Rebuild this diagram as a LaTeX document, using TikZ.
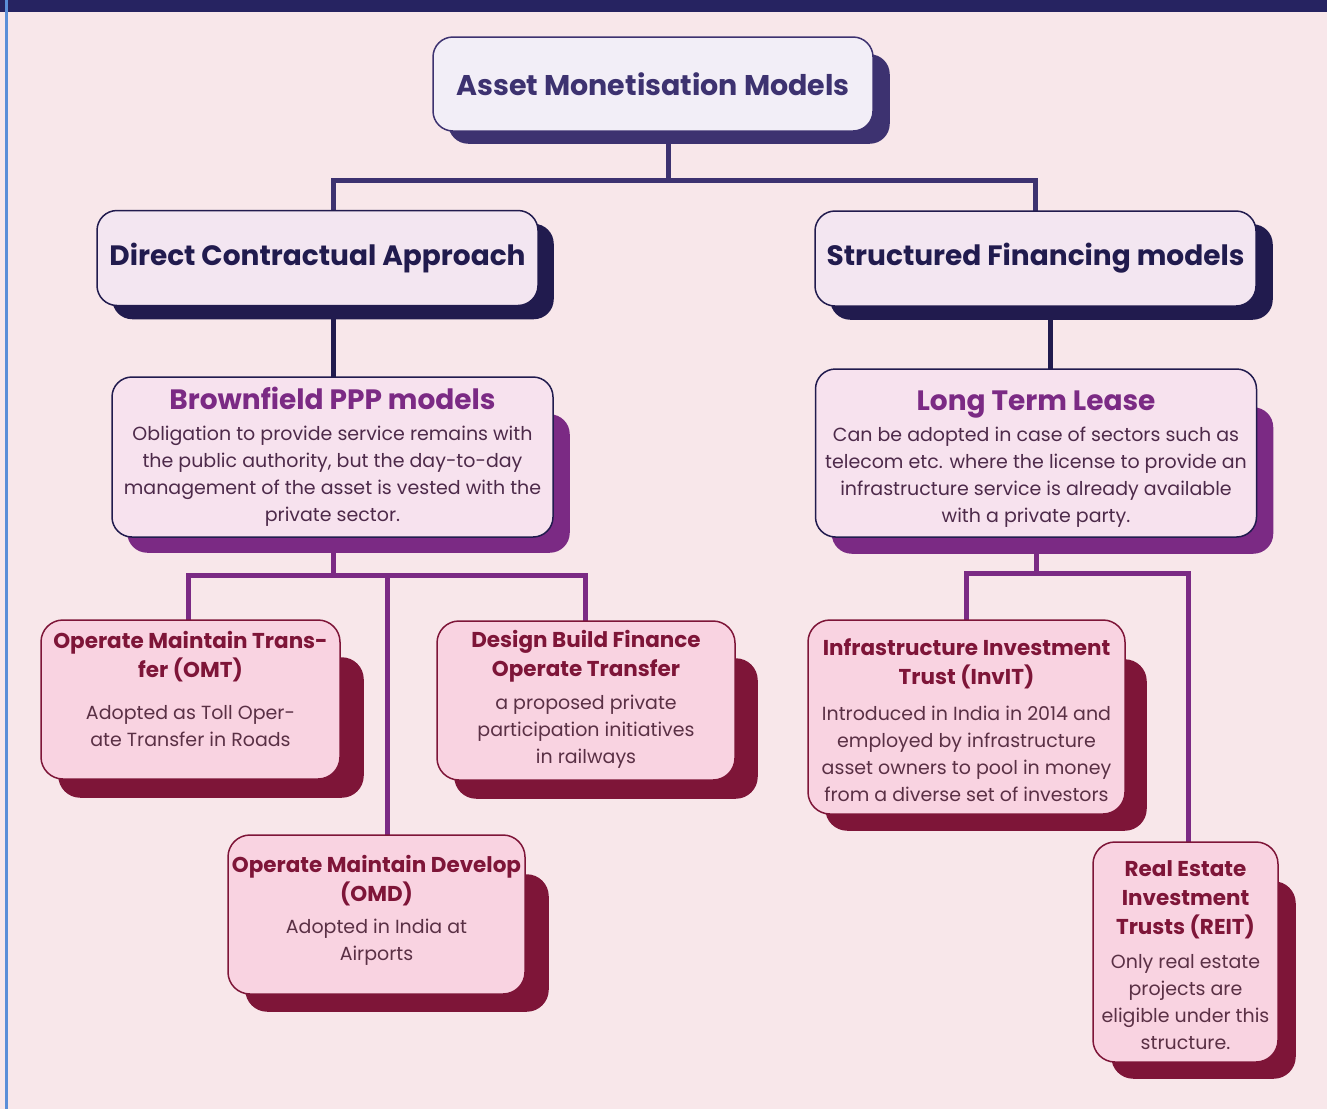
\documentclass[tikz,border=0pt]{standalone}
\usepackage{fontspec}
\setmainfont{Poppins}
\usetikzlibrary{calc,backgrounds}

\definecolor{pagepink}{HTML}{F8E7EA}
\definecolor{topbar}{HTML}{262361}
\definecolor{edgeblue}{HTML}{5B8ED8}
\definecolor{headnavy}{HTML}{3D3270}
\definecolor{headfill}{HTML}{F2EEF7}
\definecolor{darknavy}{HTML}{211B4E}
\definecolor{lilacfill}{HTML}{F3E6F1}
\definecolor{plum}{HTML}{7B2A84}
\definecolor{plumfill}{HTML}{F7E2EE}
\definecolor{plumtext}{HTML}{4D2A4A}
\definecolor{wine}{HTML}{7E1538}
\definecolor{winefill}{HTML}{F9D3E1}
\definecolor{winetext}{HTML}{5A3045}

\newcommand{\modeltitle}[1]{{\fontsize{28}{30}\selectfont\bfseries\color{plum}#1}}
\newcommand{\leaftitle}[1]{{\fontsize{21.5}{29}\selectfont\bfseries\color{wine}#1}}
\newcommand{\lowerpad}[1]{\rule[-#1]{0pt}{0pt}}
\newcommand{\upperpad}[1]{\rule{0pt}{#1}}

\tikzset{every picture/.style={line width=0.75pt}}
\tikzset{
  headbox/.style={draw=headnavy, fill=headfill, rounded corners=20pt, line width=1.5pt,
    minimum width=440pt, minimum height=94pt, align=center, text=headnavy,
    font=\fontsize{28.5}{32}\selectfont\bfseries},
  groupbox/.style={draw=darknavy, fill=lilacfill, rounded corners=20pt, line width=1.5pt,
    minimum width=441pt, minimum height=95pt, align=center, text=darknavy,
    font=\fontsize{28}{32}\selectfont\bfseries},
  modelbox/.style={draw=darknavy, fill=plumfill, rounded corners=20pt, line width=1.5pt,
    minimum width=441pt, align=center, text=plumtext, inner sep=0pt,
    font=\fontsize{19}{27}\selectfont},
  leafbox/.style={draw=wine, fill=winefill, rounded corners=22pt, line width=1.5pt,
    align=center, text=winetext, inner sep=0pt, font=\fontsize{19}{27}\selectfont},
  headshade/.style={fill=headnavy, rounded corners=20pt},
  groupshade/.style={fill=darknavy, rounded corners=20pt},
  modelshade/.style={fill=plum, rounded corners=20pt},
  leafshade/.style={fill=wine, rounded corners=22pt},
  navylink/.style={draw=headnavy, line width=5pt, line cap=rect},
  darklink/.style={draw=darknavy, line width=5pt},
  plumlink/.style={draw=plum, line width=5pt, line cap=rect}
}

\begin{document}
\begin{tikzpicture}[x=1pt,y=1pt,yscale=-1,xscale=1]
\useasboundingbox (0,0) rectangle (1327,1109);

% Text Node
\node[headbox] (title) at (653,84) {Asset Monetisation Models};
% Text Node
\node[groupbox] (dca) at (317.5,258) {Direct Contractual Approach};
% Text Node
\node[groupbox] (sfm) at (1035.5,258.5) {Structured Financing models};
% Text Node
\node[modelbox, minimum height=160pt] (ppp) at (332.5,457) {\modeltitle{Brownfield PPP models}\\[4pt]
Obligation to provide service remains with\\
the public authority, but the day-to-day\\
management of the asset is vested with the\\
private sector.};
% Text Node
\node[modelbox, minimum height=168pt] (ltl) at (1036,453) {\upperpad{32pt}\modeltitle{Long Term Lease}\\[4pt]
Can be adopted in case of sectors such as\\
telecom etc. where the license to provide an\\
infrastructure service is already available\\
with a private party.};
% Text Node
\node[leafbox, minimum width=299pt, minimum height=159pt] (omt) at (190.5,699.5) {\leaftitle{Operate Maintain Trans-}\\[2pt]
\leaftitle{fer (OMT)}\\[15pt]
Adopted as Toll Oper-\\
ate Transfer in Roads\lowerpad{22pt}};
% Text Node
\node[leafbox, minimum width=298pt, minimum height=159pt] (dbfot) at (586,700.5) {\leaftitle{Design Build Finance}\\[2pt]
\leaftitle{Operate Transfer}\\[6pt]
a proposed private\\
participation initiatives\\
in railways\lowerpad{7pt}};
% Text Node
\node[leafbox, minimum width=297pt, minimum height=159pt] (omd) at (376.5,914.5) {\leaftitle{Operate Maintain Develop}\\[2pt]
\leaftitle{(OMD)}\\[5pt]
Adopted in India at\\
Airports\lowerpad{14pt}};
% Text Node
\node[leafbox, minimum width=317pt, minimum height=194pt] (invit) at (966.5,717) {\upperpad{23pt}\leaftitle{Infrastructure Investment}\\[2pt]
\leaftitle{Trust (InvIT)}\\[9pt]
Introduced in India in 2014 and\\
employed by infrastructure\\
asset owners to pool in money\\
from a diverse set of investors};
% Text Node
\node[leafbox, minimum width=185pt, minimum height=220pt] (reit) at (1185.5,952) {\upperpad{23pt}\leaftitle{Real Estate}\\[2pt]
\leaftitle{Investment}\\[2pt]
\leaftitle{Trusts (REIT)}\\[7pt]
Only real estate\\
projects are\\
eligible under this\\
structure.};

\coordinate (rootjoint) at (668,180);
\coordinate (dcajoint) at (333,180);
\coordinate (sfmjoint) at (1035,180);
\coordinate (dcadrop) at (333,318);
\coordinate (sfmdrop) at (1050,319);
\coordinate (pppjoint) at (333,575);
\coordinate (omtjoint) at (188,575);
\coordinate (omdjoint) at (387,575);
\coordinate (dbfotjoint) at (585,575);
\coordinate (ltljoint) at (1036,573);
\coordinate (invitjoint) at (966,573);
\coordinate (reitjoint) at (1188,573);

\begin{pgfonlayer}{background}
%Shape: Page
\fill[pagepink] (0,0) rectangle (1327,1109);
%Straight Lines
\draw[navylink] (title.center -| rootjoint) -- (rootjoint);
\draw[navylink] (dcajoint) -- (sfmjoint);
\draw[navylink] (dcajoint) -- (dcajoint |- dca.center);
\draw[navylink] (sfmjoint) -- (sfmjoint |- sfm.center);
\draw[darklink] (dcadrop) -- (dcadrop |- ppp.center);
\draw[darklink] (sfmdrop) -- (sfmdrop |- ltl.center);
%Straight Lines
\draw[plumlink] (pppjoint |- ppp.center) -- (pppjoint);
\draw[plumlink] (omtjoint) -- (dbfotjoint);
\draw[plumlink] (omtjoint) -- (omtjoint |- omt.center);
\draw[plumlink] (omdjoint) -- (omdjoint |- omd.center);
\draw[plumlink] (dbfotjoint) -- (dbfotjoint |- dbfot.center);
%Straight Lines
\draw[plumlink] (ltljoint |- ltl.center) -- (ltljoint);
\draw[plumlink] (invitjoint) -- (reitjoint);
\draw[plumlink] (invitjoint) -- (invitjoint |- invit.center);
\draw[plumlink] (reitjoint) -- (reitjoint |- reit.center);
%Shape: Shadows
\fill[headshade] ($(title.north west)+(16,18)$) rectangle ($(title.south east)+(16,12)$);
\fill[groupshade] ($(dca.north west)+(16,14)$) rectangle ($(dca.south east)+(15,13)$);
\fill[groupshade] ($(sfm.north west)+(16,14)$) rectangle ($(sfm.south east)+(16,13)$);
\fill[modelshade] ($(ppp.north west)+(16,38)$) rectangle ($(ppp.south east)+(16,15)$);
\fill[modelshade] ($(ltl.north west)+(17,39)$) rectangle ($(ltl.south east)+(16,16)$);
\fill[leafshade] ($(omt.north west)+(18,38)$) rectangle ($(omt.south east)+(23,18)$);
\fill[leafshade] ($(dbfot.north west)+(18,38)$) rectangle ($(dbfot.south east)+(22,18)$);
\fill[leafshade] ($(omd.north west)+(18,40)$) rectangle ($(omd.south east)+(23,17)$);
\fill[leafshade] ($(invit.north west)+(18,40)$) rectangle ($(invit.south east)+(21,16)$);
\fill[leafshade] ($(reit.north west)+(19,40)$) rectangle ($(reit.south east)+(17,16)$);
\end{pgfonlayer}

%Shape: Top Bar
\fill[topbar] (0,0) rectangle (1327,12);
%Straight Lines
\draw[edgeblue, line width=3pt] (6,0) -- (6,1109);

\end{tikzpicture}
\end{document}
